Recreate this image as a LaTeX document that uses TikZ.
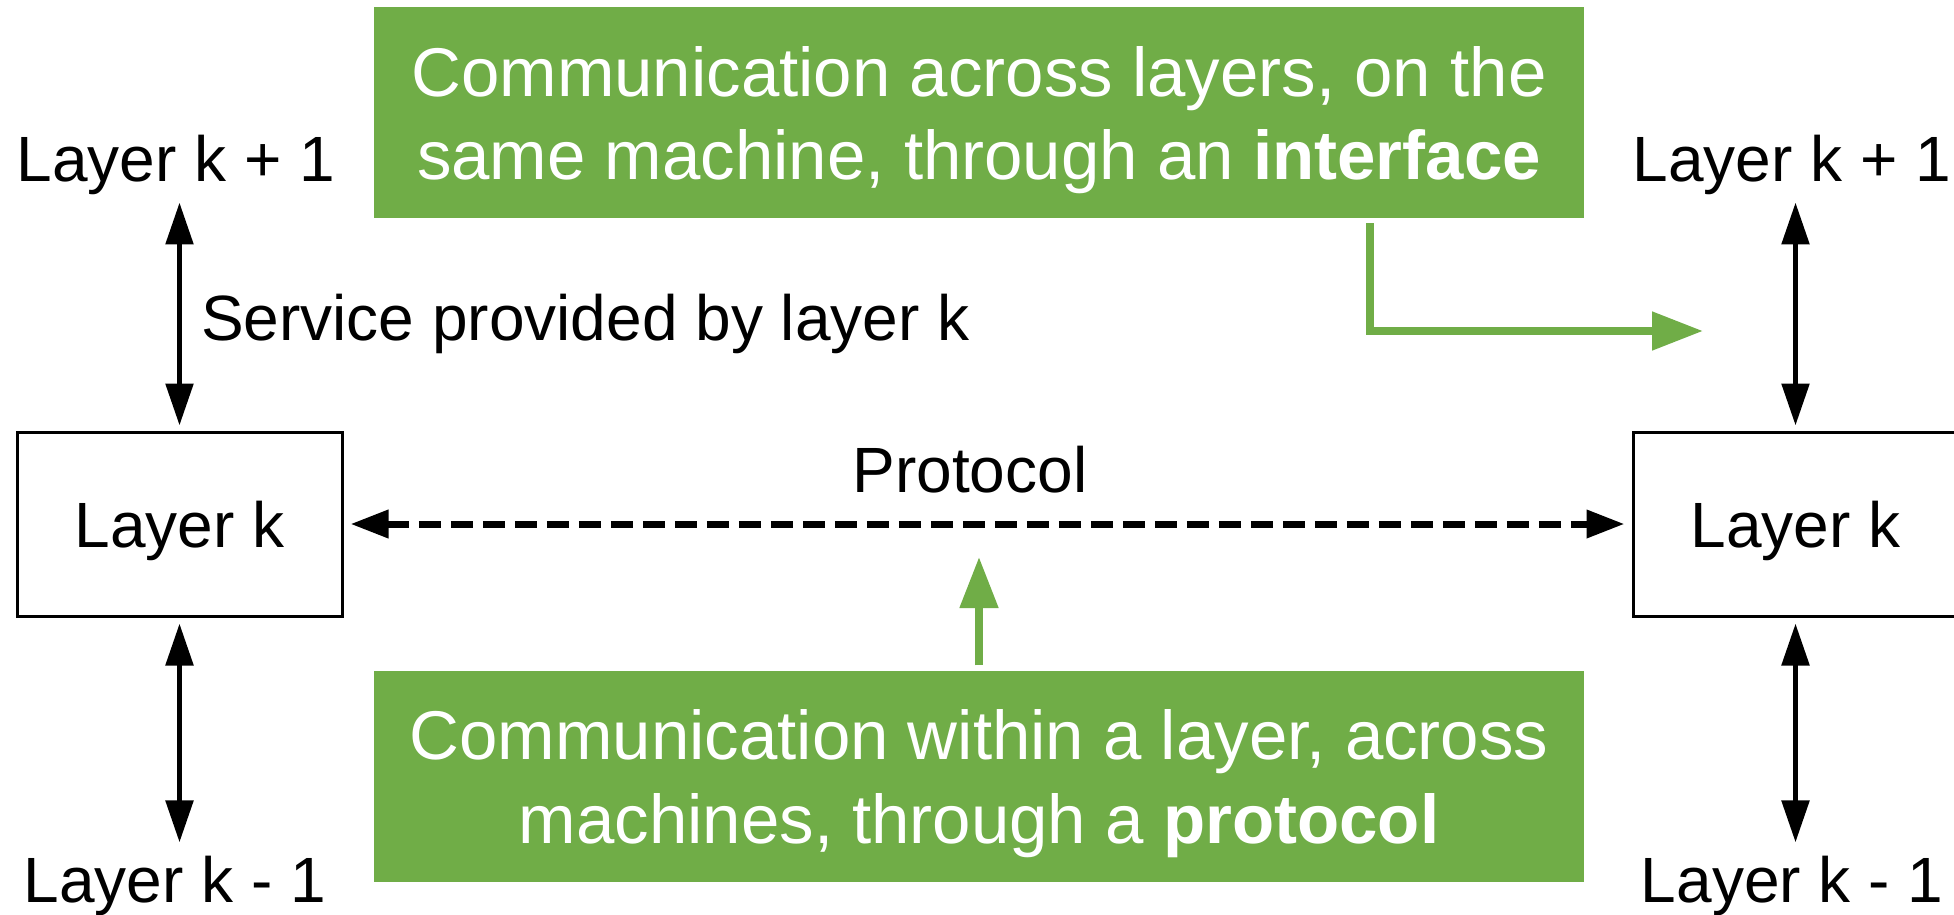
\documentclass[tikz,border=0pt]{standalone}
\usepackage{fontspec}
\setmainfont{Liberation Sans}
\usetikzlibrary{arrows.meta}
\definecolor{ggreen}{HTML}{70AD47}
\tikzset{
  blab/.style={inner sep=0pt, font=\fontsize{64}{77}\selectfont, text=black},
  layerbox/.style={draw=black, line width=3pt, minimum width=325pt, minimum height=184pt, inner sep=0pt, text depth=0pt, font=\fontsize{64}{77}\selectfont},
  gbox/.style={fill=ggreen, draw=none, minimum width=1210pt, minimum height=211pt, inner sep=0pt},
  gtext/.style={inner sep=0pt, text=white, font=\fontsize{69}{82}\selectfont},
  barrow/.style={line width=5.5pt, {Triangle[length=42pt,width=27pt]}-{Triangle[length=42pt,width=27pt]}},
  parrow/.style={line width=7pt, dash pattern=on 22pt off 10pt, {Triangle[length=38pt,width=27pt]}-{Triangle[length=38pt,width=27pt]}},
  garrow/.style={draw=ggreen, line width=8pt, -{Triangle[length=51pt,width=37pt]}}
}
\begin{document}
\begin{tikzpicture}[x=1pt,y=-1pt]
\useasboundingbox (0,0) rectangle (1954,915);
\clip (0,0) rectangle (1954,915);
\fill[white] (0,0) rectangle (1954,915);

% left stack
\node[blab, anchor=base] (lup) at (176,182) {Layer k + 1};
\node[layerbox] (lbox) at (179.5,524) {Layer k};
\node[blab, anchor=base] (ldown) at (175,902) {Layer k - 1};

% right stack
\node[blab, anchor=base] (rup) at (1792,182) {Layer k + 1};
\node[layerbox] (rbox) at (1795.5,524) {Layer k};
\node[blab, anchor=base] (rdown) at (1792,902) {Layer k - 1};

% service label and protocol label
\node[blab, anchor=base west] (service) at (201,340) {Service provided by layer k};
\node[blab, anchor=base] (proto) at (970,492) {Protocol};

% vertical arrows
\draw[barrow] ([yshift=-7pt]lup.south -| lbox.north) -- ([yshift=5pt]lbox.north);
\draw[barrow] ([yshift=-6pt]lbox.south) -- ([yshift=13pt]ldown.north -| lbox.south);
\draw[barrow] ([yshift=-7pt]rup.south -| rbox.north) -- ([yshift=5pt]rbox.north);
\draw[barrow] ([yshift=-6pt]rbox.south) -- ([yshift=13pt]rdown.north -| rbox.south);

% protocol arrow
\draw[parrow] ([xshift=7pt]lbox.east) -- ([xshift=-7pt]rbox.west);

% green boxes
\node[gbox] (topbox) at (979,112.5) {};
\node[gtext, anchor=base] (t1) at (979,97) {Communication across layers, on the};
\node[gtext, anchor=base] (t2) at (979,179) {same machine, through an \textbf{interface}};

\node[gbox] (botbox) at (979,776) {};
\node[gtext, anchor=base] (b1) at (979,759) {Communication within a layer, across};
\node[gtext, anchor=base] (b2) at (979,843) {machines, through a \textbf{protocol}};

% green arrows
\coordinate (elbowx) at (1370,0);
\coordinate (ifacetip) at (1703,331);
\coordinate (prototip) at (979,557);
\draw[garrow] ([yshift=-5pt]topbox.south -| elbowx) |- (ifacetip);
\draw[garrow] ([yshift=5pt]botbox.north) -- (prototip);
\end{tikzpicture}
\end{document}
